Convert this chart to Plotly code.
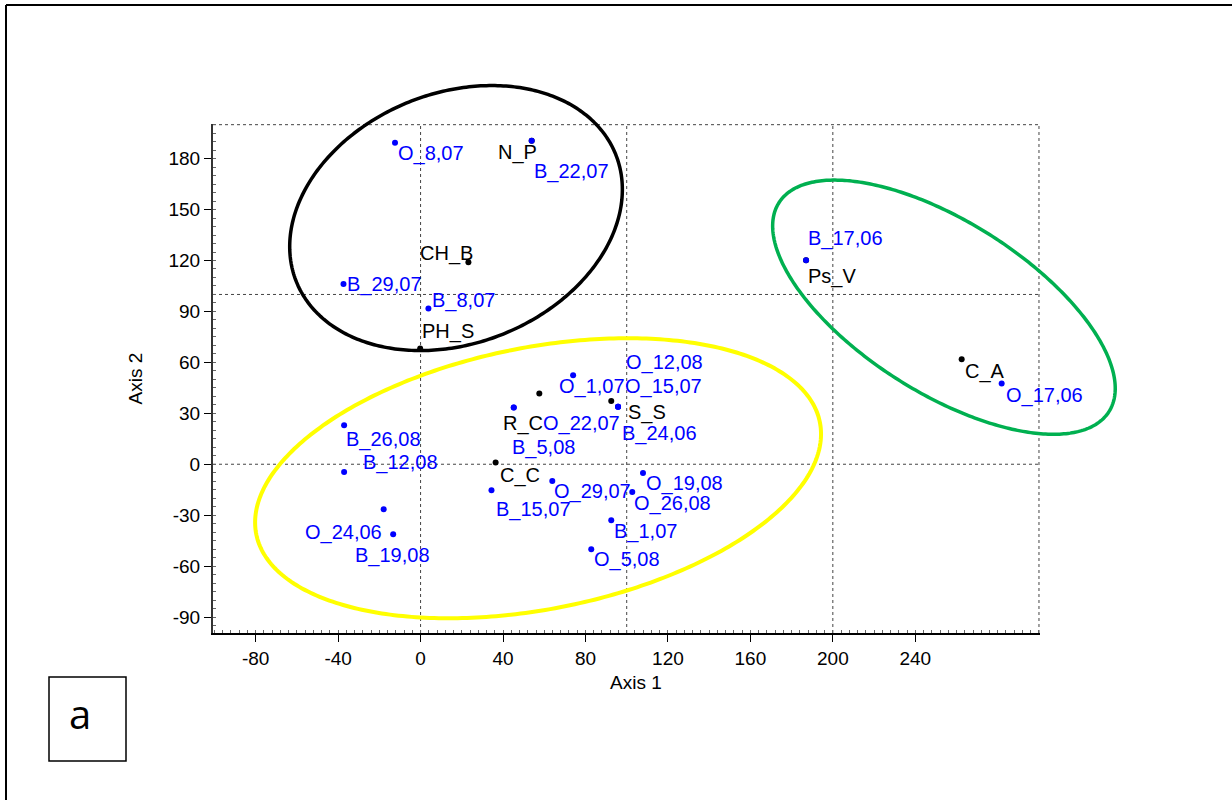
import numpy as np
import plotly.graph_objects as go

# ---------------- data ----------------
black_names = ["N_P", "CH_B", "PH_S", "R_C", "C_C", "S_S", "Ps_V", "C_A"]
black_x = [53.9, 23.2, -0.2, 57.6, 36.4, 92.5, 187.0, 262.5]
black_y = [190.5, 118.9, 68.2, 41.7, 1.0, 37.3, 120.2, 61.9]

blue_names = ["O_8,07", "B_22,07", "B_29,07", "B_8,07", "B_26,08", "B_12,08",
              "O_24,06", "B_19,08", "B_15,07", "B_5,08", "O_22,07", "O_1,07",
              "O_12,08", "O_15,07", "B_24,06", "O_29,07", "O_19,08", "O_26,08",
              "B_1,07", "O_5,08", "B_17,06", "O_17,06"]
blue_x = [-12.4, 53.9, -37.4, 3.8, -37.1, -37.1,
          -17.9, -13.3, 34.4, 45.2, 45.2, 74.0,
          95.8, 95.8, 95.8, 63.9, 107.9, 102.7,
          92.5, 82.8, 187.0, 281.9]
blue_y = [189.3, 190.5, 106.2, 91.7, 23.0, -4.5,
          -26.5, -41.2, -15.3, 33.4, 33.4, 52.4,
          33.8, 33.8, 33.8, -9.8, -5.1, -16.3,
          -33.0, -50.1, 120.2, 47.6]

x_ticks = [-80, -40, 0, 40, 80, 120, 160, 200, 240]
x_tick_labels = ["-80", "-40", "0", "40", "80", "120", "160", "200", "240"]
y_ticks = [-90, -60, -30, 0, 30, 60, 90, 120, 150, 180]
y_tick_labels = ["-90", "-60", "-30", "0", "30", "60", "90", "120", "150", "180"]
x_grid = [0, 100, 200, 300]
y_grid = [0, 100, 200]

# group ellipses: center x, center y, semi-axis a, semi-axis b, angle (deg)
ellipse_cx = [17.2, 57.0, 253.9]
ellipse_cy = [145.0, -8.25, 92.5]
ellipse_a = [87.6, 140.8, 101.4]
ellipse_b = [70.2, 76.3, 47.2]
ellipse_ang = [40.6, 15.35, -40.35]

# ---------------- label placement (pixel offsets from the dot) ----------------
black_dx = [-34, -48.3, 1.7, -36, 3.9, 17.2, 2.3, 3.3]
black_dy = [11.3, -9, -17.3, 30.2, 12.7, 11.3, 16.7, 12.3]
blue_dx = [3.3, 2.6, 3.4, 3.4, 2.3, 19.1,
           -78.5, -38.3, 4.2, -1.9, 29.5, -14.6,
           8.4, 6.5, 3.9, 1.5, 2.7, 1.9,
           3.1, 2.7, 2.3, 4.0]
blue_dy = [11, 30.3, 0.3, -8.3, 14.2, -9.4,
           23.5, 21.8, 19, 39.7, 16.2, 11.7,
           -44.7, -20, 27.1, 11, 10.3, 11.3,
           11, 10, -22, 12.5]
ellipse_colors = ["#000000", "#FFFF00", "#00B050"]
ellipse_widths = [3.5, 4, 3.5]

BLUE = "#0000FF"
FONT = "Arial, Liberation Sans, sans-serif"
LABEL_SIZE = 20
XR = [-100.7, 300.5]
YR = [-99.4, 200.4]

fig = go.Figure()

fig.add_trace(go.Scatter(x=black_x, y=black_y, mode="markers", text=black_names,
                         marker=dict(color="black", size=6), showlegend=False))
fig.add_trace(go.Scatter(x=blue_x, y=blue_y, mode="markers", text=blue_names,
                         marker=dict(color=BLUE, size=6), showlegend=False))

annotations = []
for n, x, y, dx, dy in zip(black_names, black_x, black_y, black_dx, black_dy):
    annotations.append(dict(x=x, y=y, xref="x", yref="y", text=n, showarrow=False,
                            xanchor="left", yanchor="middle", xshift=dx - 1, yshift=-dy,
                            borderpad=0, font=dict(family=FONT, size=LABEL_SIZE, color="black")))
for n, x, y, dx, dy in zip(blue_names, blue_x, blue_y, blue_dx, blue_dy):
    annotations.append(dict(x=x, y=y, xref="x", yref="y", text=n, showarrow=False,
                            xanchor="left", yanchor="middle", xshift=dx - 1, yshift=-dy,
                            borderpad=0, font=dict(family=FONT, size=LABEL_SIZE, color=BLUE)))

# geometry of plot area in pixels
L, R, T, B = 213, 192, 124, 167
W, H = 1232, 800
PW, PH = W - L - R, H - T - B


def px(xp):
    return (xp - L) / PW


def py(yp):
    return (H - B - yp) / PH


# axis titles
annotations.append(dict(x=px(636), y=0, xref="paper", yref="paper", text="Axis 1",
                        showarrow=False, xanchor="center", yanchor="middle", yshift=-49,
                        font=dict(family=FONT, size=19, color="black")))
annotations.append(dict(x=0, y=0.5, xref="paper", yref="paper", text="Axis 2",
                        showarrow=False, xanchor="center", yanchor="middle", xshift=-78,
                        textangle=-90, font=dict(family=FONT, size=19, color="black")))
# panel letter
annotations.append(dict(x=px(80), y=py(713), xref="paper", yref="paper", text="a",
                        showarrow=False, xanchor="center", yanchor="middle",
                        font=dict(family="Open Sans, sans-serif", size=40, color="black")))

shapes = []
for g in x_grid:
    shapes.append(dict(type="line", xref="x", yref="paper", x0=g, x1=g, y0=0, y1=1,
                       line=dict(color="#444444", width=1, dash="dot"), layer="below"))
for g in y_grid:
    shapes.append(dict(type="line", xref="paper", yref="y", x0=0, x1=1, y0=g, y1=g,
                       line=dict(color="#444444", width=1, dash="dot"), layer="below"))

# ellipses (drawn in paper space so they may extend beyond the axes, as in the original)
t = np.linspace(0, 2 * np.pi, 361)
for cx, cy, a, b, ang, col, w in zip(ellipse_cx, ellipse_cy, ellipse_a, ellipse_b,
                                     ellipse_ang, ellipse_colors, ellipse_widths):
    th = np.deg2rad(ang)
    ex = cx + a * np.cos(t) * np.cos(th) - b * np.sin(t) * np.sin(th)
    ey = cy + a * np.cos(t) * np.sin(th) + b * np.sin(t) * np.cos(th)
    ux = (ex - XR[0]) / (XR[1] - XR[0])
    uy = (ey - YR[0]) / (YR[1] - YR[0])
    path = "M " + " L ".join(f"{u:.5f},{v:.5f}" for u, v in zip(ux, uy)) + " Z"
    shapes.append(dict(type="path", xref="paper", yref="paper", path=path,
                       line=dict(color=col, width=w)))

# outer frame (top and left edges visible)
shapes.append(dict(type="line", xref="paper", yref="paper", x0=px(6), x1=px(1240),
                   y0=py(5), y1=py(5), line=dict(color="black", width=2)))
shapes.append(dict(type="line", xref="paper", yref="paper", x0=px(6), x1=px(6),
                   y0=py(5), y1=py(810), line=dict(color="black", width=2)))
# panel letter box
shapes.append(dict(type="rect", xref="paper", yref="paper", x0=px(49), x1=px(126),
                   y0=py(677), y1=py(761), line=dict(color="black", width=1.5)))

fig.update_layout(
    width=W, height=H, margin=dict(l=L, r=R, t=T, b=B, autoexpand=False),
    paper_bgcolor="white", plot_bgcolor="white",
    annotations=annotations, shapes=shapes, showlegend=False,
    font=dict(family=FONT, size=19, color="black"),
)
fig.update_xaxes(range=XR, tickvals=x_ticks, ticktext=x_tick_labels, showgrid=False,
                 zeroline=False, showline=True, linecolor="black", linewidth=2,
                 ticks="outside", ticklen=7, tickcolor="black", tickwidth=1,
                 tickfont=dict(family=FONT, size=19, color="black"),
                 minor=dict(dtick=4, ticks="inside", ticklen=3, tickcolor="#666666", showgrid=False),
                 automargin=False)
fig.update_yaxes(range=YR, tickvals=y_ticks, ticktext=y_tick_labels, showgrid=False,
                 zeroline=False, showline=True, linecolor="#333333", linewidth=2,
                 ticks="outside", ticklen=7, tickcolor="black", tickwidth=1,
                 tickfont=dict(family=FONT, size=19, color="black"),
                 minor=dict(dtick=5, ticks="inside", ticklen=3, tickcolor="#666666", showgrid=False),
                 automargin=False)

fig.write_html("out.html")
